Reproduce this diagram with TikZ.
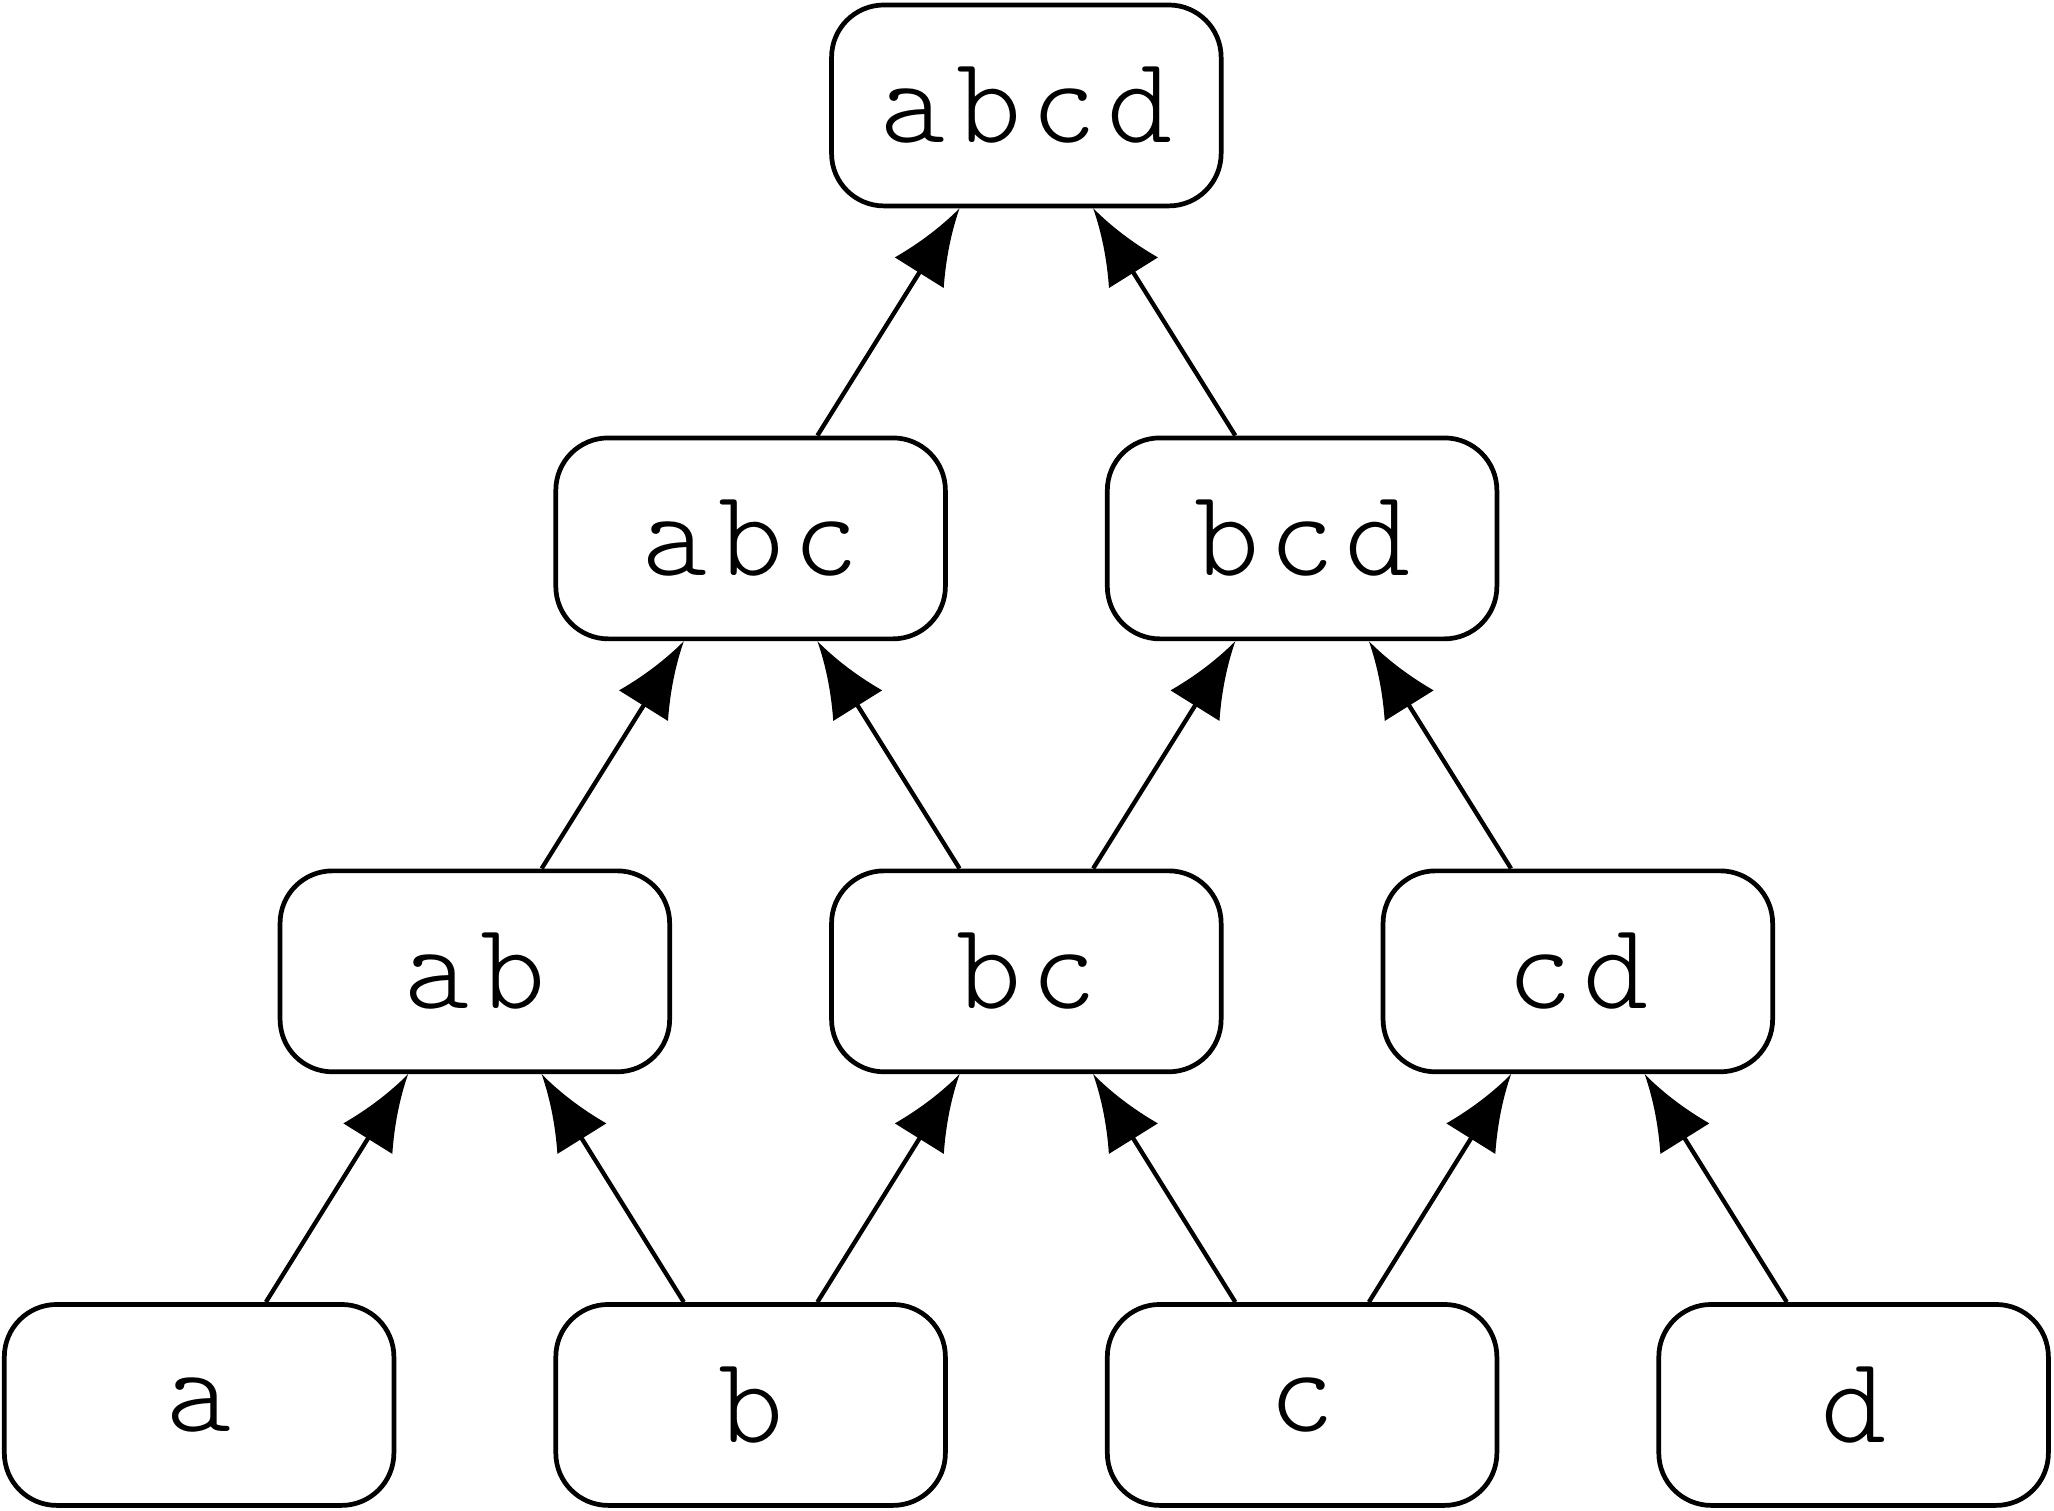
\documentclass[tikz,border=0pt]{standalone}
\usepackage{fontspec}
\setmonofont{lmmonolt10-regular.otf}[LetterSpace=8.5]
\usetikzlibrary{arrows.meta}
\pgfdeclarearrow{
  name = Concave,
  parameters = {\the\pgfarrowlength,\the\pgfarrowwidth},
  setup code = {
    \pgfarrowssettipend{0pt}
    \pgfarrowssetlineend{-0.5\pgfarrowlength}
    \pgfarrowsupperhullpoint{0pt}{0pt}
    \pgfarrowsupperhullpoint{-\pgfarrowlength}{0.5\pgfarrowwidth}
    \pgfarrowssavethe\pgfarrowlength
    \pgfarrowssavethe\pgfarrowwidth
  },
  drawing code = {
    \pgfpathmoveto{\pgfpoint{0pt}{0pt}}
    \pgfpathquadraticcurveto{\pgfpoint{-0.5\pgfarrowlength}{0.15\pgfarrowwidth}}{\pgfpoint{-\pgfarrowlength}{0.5\pgfarrowwidth}}
    \pgfpathlineto{\pgfpoint{-\pgfarrowlength}{-0.5\pgfarrowwidth}}
    \pgfpathquadraticcurveto{\pgfpoint{-0.5\pgfarrowlength}{-0.15\pgfarrowwidth}}{\pgfpoint{0pt}{0pt}}
    \pgfpathclose
    \pgfusepathqfill
  },
  defaults = {length = 58pt, width = 44pt}
}
\begin{document}
\begin{tikzpicture}[x=1pt,y=-1pt,
  nbox/.style={draw=black, line width=3.6pt, rounded corners=40pt,
    minimum width=297.4pt, minimum height=153.4pt, inner sep=0pt,
    font=\fontsize{94.5pt}{100pt}\selectfont\ttfamily},
  link/.style={line width=3.3pt, -{Concave[length=58pt,width=44pt]}}]
\fill[white] (0,0) rectangle (1568,1153);
\useasboundingbox (0,0) rectangle (1568,1153);
% bottom row
\node[nbox] (a) at (152,1072.5) {a};
\node[nbox] (b) at (573,1072.5) {b};
\node[nbox] (c) at (994,1072.5) {c};
\node[nbox] (d) at (1415,1072.5) {d};
% row 2
\node[nbox] (ab) at (362.5,741.5) {ab};
\node[nbox] (bc) at (783.5,741.5) {bc};
\node[nbox] (cd) at (1204.5,741.5) {cd};
% row 3
\node[nbox] (abc) at (573,411) {abc};
\node[nbox] (bcd) at (994,411) {bcd};
% top
\node[nbox] (abcd) at (783.5,80.5) {abcd};
% edges
\draw[link] ([xshift=51pt]a.north) -- ([xshift=-51pt]ab.south);
\draw[link] ([xshift=-51pt]b.north) -- ([xshift=51pt]ab.south);
\draw[link] ([xshift=51pt]b.north) -- ([xshift=-51pt]bc.south);
\draw[link] ([xshift=-51pt]c.north) -- ([xshift=51pt]bc.south);
\draw[link] ([xshift=51pt]c.north) -- ([xshift=-51pt]cd.south);
\draw[link] ([xshift=-51pt]d.north) -- ([xshift=51pt]cd.south);
\draw[link] ([xshift=51pt]ab.north) -- ([xshift=-51pt]abc.south);
\draw[link] ([xshift=-51pt]bc.north) -- ([xshift=51pt]abc.south);
\draw[link] ([xshift=51pt]bc.north) -- ([xshift=-51pt]bcd.south);
\draw[link] ([xshift=-51pt]cd.north) -- ([xshift=51pt]bcd.south);
\draw[link] ([xshift=51pt]abc.north) -- ([xshift=-51pt]abcd.south);
\draw[link] ([xshift=-51pt]bcd.north) -- ([xshift=51pt]abcd.south);
\end{tikzpicture}
\end{document}
